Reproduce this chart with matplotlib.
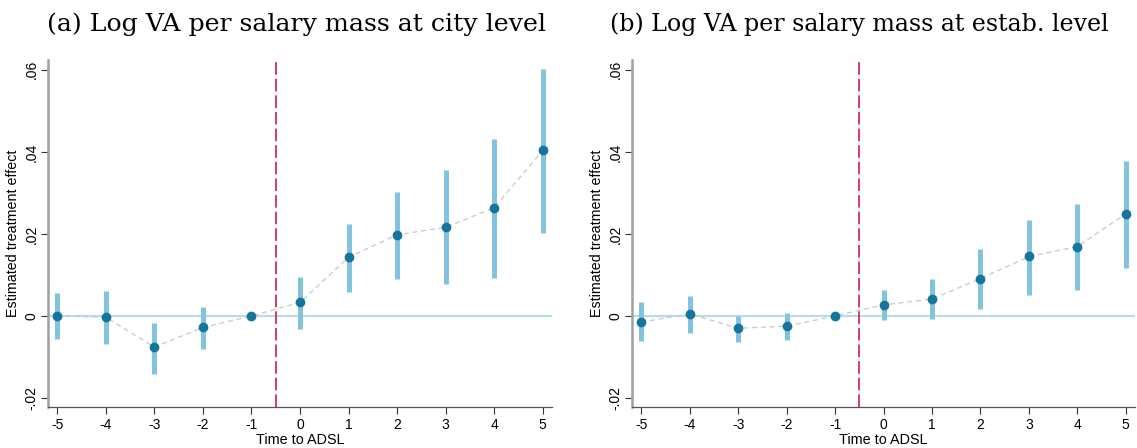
import matplotlib
matplotlib.use("Agg")
import matplotlib.pyplot as plt
import numpy as np

periods = [-5, -4, -3, -2, -1, 0, 1, 2, 3, 4, 5]

# Panel (a): city level
coef_a = [0.0000, -0.0003, -0.0076, -0.0028, 0.0000, 0.0033, 0.0143, 0.0198, 0.0216, 0.0264, 0.0404]
hi_a   = [0.0056, 0.0061, -0.0016, 0.0021, 0.0000, 0.0095, 0.0224, 0.0301, 0.0357, 0.0431, 0.0602]
lo_a   = [-0.0057, -0.0069, -0.0141, -0.0080, 0.0000, -0.0031, 0.0059, 0.0091, 0.0077, 0.0093, 0.0203]

# Panel (b): establishment level
coef_b = [-0.0015, 0.0005, -0.0030, -0.0025, 0.0000, 0.0027, 0.0041, 0.0091, 0.0145, 0.0169, 0.0249]
hi_b   = [0.0034, 0.0048, 0.0000, 0.0006, 0.0000, 0.0063, 0.0089, 0.0163, 0.0235, 0.0273, 0.0377]
lo_b   = [-0.0062, -0.0041, -0.0063, -0.0058, 0.0000, -0.0010, -0.0008, 0.0016, 0.0052, 0.0064, 0.0117]

titles = ["(a) Log VA per salary mass at city level",
          "(b) Log VA per salary mass at estab. level"]
yticks = [-0.02, 0.0, 0.02, 0.04, 0.06]
ytick_labels = ["-.02", "0", ".02", ".04", ".06"]
xlabel = "Time to ADSL"
ylabel = "Estimated treatment effect"

W, H = 1137, 448
fig = plt.figure(figsize=(W / 100, H / 100), dpi=100)

panels = [(coef_a, lo_a, hi_a), (coef_b, lo_b, hi_b)]
lefts = [48, 632]
right_edges = [552, 1135]
title_centers = [296.5, 859]
title_sizes = [18.2, 17.1]
top_px, bot_px = 60, 407

for i, (coef, lo, hi) in enumerate(panels):
    l = lefts[i] / W
    w = (right_edges[i] - lefts[i]) / W
    b = 1 - bot_px / H
    h = (bot_px - top_px) / H
    ax = fig.add_axes([l, b, w, h])
    x = np.array(periods)
    ax.axhline(0, color="#b8dce8", lw=1.6, zorder=1)
    ax.axvline(-0.5, color="#cf2f5a", lw=1.3, ls=(0, (7, 2.2)), zorder=2)
    ax.plot(x, coef, color="#c8c8c8", lw=0.9, ls=(0, (4, 3)), zorder=2)
    ax.vlines(x, lo, hi, color="#82c4de", lw=3.6, zorder=3)
    ax.plot(x, coef, "o", color="#15759c", ms=6, zorder=4)
    ax.set_xlim(-5.19, 5.19)
    ax.set_ylim(-0.0222, 0.0624)
    ax.set_xticks(periods)
    ax.set_xticklabels([str(p) for p in periods], fontsize=10, family="Liberation Sans")
    ax.set_yticks(yticks)
    ax.set_yticklabels(ytick_labels, fontsize=10, family="Liberation Sans",
                       rotation=90, va="center")
    ax.tick_params(axis="both", direction="out", length=5, width=0.8,
                   color="#333333", pad=3)
    ax.tick_params(axis="y", pad=2)
    for s in ["top", "right"]:
        ax.spines[s].set_visible(False)
    ax.spines["left"].set_color("#a0a0a0")
    ax.spines["left"].set_linewidth(1.8)
    ax.spines["bottom"].set_color("#555555")
    ax.spines["bottom"].set_linewidth(0.9)
    ax.set_xlabel(xlabel, fontsize=10.4, family="Liberation Sans", labelpad=0.5)
    ax.set_ylabel(ylabel, fontsize=10.3, family="Liberation Sans", labelpad=3)
    fig.text(title_centers[i] / W, 1 - 30.5 / H, titles[i], ha="center",
             va="baseline", fontsize=title_sizes[i], family="DejaVu Serif")

fig.savefig("out.png", dpi=100)
